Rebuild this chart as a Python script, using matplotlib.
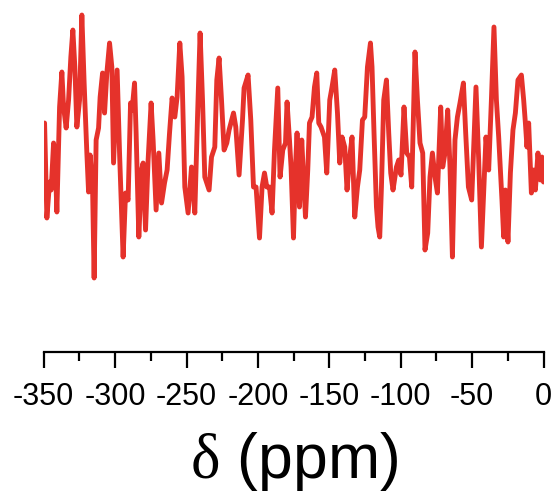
import matplotlib.pyplot as plt
from matplotlib.ticker import MultipleLocator

plt.rcParams['mathtext.fontset'] = 'custom'
plt.rcParams['mathtext.rm'] = 'Liberation Serif'
plt.rcParams['axes.unicode_minus'] = False

# chemical shift (ppm) and intensity (a.u.)
shift = [
    -349.4, -347.8, -345.9, -344.8, -343.1, -342.0, -340.8, -338.9, -337.3, -336.1,
    -334.3, -332.6, -331.0, -329.6, -328.2, -326.8, -324.9, -323.3, -321.7, -319.8,
    -318.6, -317.5, -315.8, -314.7, -313.3, -311.6, -310.5, -308.8, -307.4, -305.8,
    -303.9, -302.3, -301.1, -298.6, -296.9, -294.4, -292.7, -290.9, -289.2, -288.1,
    -286.4, -285.3, -283.4, -281.5, -280.4, -278.7, -276.9, -274.8, -273.4, -271.3,
    -269.4, -267.5, -265.4, -263.6, -261.9, -260.1, -258.2, -256.6, -254.7, -253.1,
    -251.2, -248.9, -246.5, -244.2, -242.3, -240.5, -238.8, -237.2, -234.2, -232.5,
    -230.2, -228.8, -227.2, -225.5, -223.7, -221.8, -220.2, -217.1, -215.5, -213.2,
    -210.8, -209.7, -206.9, -205.0, -203.1, -201.3, -198.9, -197.1, -195.4, -193.8,
    -191.9, -190.1, -188.4, -186.1, -184.5, -182.6, -180.7, -179.6, -177.9, -176.8,
    -175.1, -173.7, -172.6, -170.9, -169.3, -168.1, -166.7, -165.1, -163.9, -162.1,
    -160.4, -158.8, -157.4, -155.8, -153.4, -151.8, -149.7, -148.1, -146.2, -144.3,
    -142.7, -141.1, -139.2, -137.6, -135.7, -134.1, -132.2, -130.3, -128.7, -126.8,
    -125.2, -123.3, -121.2, -120.1, -118.7, -117.0, -115.9, -114.7, -113.5, -111.9,
    -110.0, -108.4, -107.0, -105.4, -103.0, -101.4, -99.8, -97.7, -95.8, -93.9,
    -92.3, -90.0, -88.3, -86.5, -84.6, -83.0, -81.1, -79.5, -77.8, -76.0,
    -74.3, -72.0, -70.6, -69.0, -67.1, -65.5, -63.8, -62.0, -60.3, -58.5,
    -56.1, -54.5, -52.6, -50.3, -47.3, -45.4, -43.5, -41.9, -40.3, -38.4,
    -36.5, -34.7, -33.0, -31.4, -29.1, -27.9, -26.7, -24.9, -23.2, -21.4,
    -19.7, -17.9, -15.5, -13.9, -12.7, -11.6, -10.4, -8.5, -6.9, -5.7,
    -3.9, -2.2, -1.1, 0.0,
]
intensity = [
    1.67, 0.72, 1.08, 1.00, 1.47, 1.33, 0.78, 1.83, 2.18, 1.83,
    1.62, 1.90, 2.33, 2.60, 2.23, 1.63, 1.90, 2.75, 2.07, 1.37,
    0.98, 1.35, 1.03, 0.12, 1.50, 1.62, 1.93, 2.17, 1.77, 2.17,
    2.47, 2.23, 1.27, 2.20, 1.37, 0.33, 0.97, 0.90, 1.87, 1.80,
    2.07, 1.57, 0.53, 1.20, 1.27, 0.60, 1.30, 1.87, 1.50, 0.80,
    1.37, 0.87, 1.07, 1.20, 1.57, 1.92, 1.73, 1.93, 2.47, 2.13,
    1.03, 0.77, 1.23, 0.77, 1.73, 2.57, 1.90, 1.13, 1.00, 1.33,
    1.43, 2.10, 2.32, 1.90, 1.40, 1.47, 1.60, 1.77, 1.63, 1.15,
    1.70, 2.02, 2.15, 1.70, 1.03, 1.03, 0.52, 1.03, 1.17, 1.03,
    1.03, 0.77, 1.40, 2.02, 1.13, 1.40, 1.47, 1.88, 1.50, 1.23,
    0.52, 1.23, 1.57, 0.83, 1.50, 1.13, 0.73, 1.20, 1.67, 1.73,
    2.03, 2.17, 1.67, 1.63, 1.53, 1.17, 1.90, 2.03, 2.20, 1.77,
    1.27, 1.53, 1.43, 1.00, 1.33, 1.53, 0.73, 1.03, 1.20, 1.70,
    1.73, 2.23, 2.47, 2.23, 1.57, 0.83, 0.63, 0.53, 1.03, 1.90,
    2.10, 1.57, 1.17, 1.00, 1.23, 1.30, 1.15, 1.83, 1.37, 1.33,
    1.03, 2.38, 1.90, 1.47, 1.37, 0.40, 0.57, 1.13, 1.37, 1.13,
    0.97, 1.83, 1.23, 1.37, 1.80, 1.23, 0.33, 1.50, 1.73, 1.87,
    2.07, 1.57, 1.03, 0.90, 2.03, 1.30, 0.43, 0.97, 1.53, 1.20,
    1.90, 2.63, 1.90, 1.53, 0.90, 0.53, 1.00, 0.48, 1.17, 1.60,
    1.77, 2.10, 2.15, 1.90, 1.67, 1.43, 1.67, 0.97, 1.20, 1.00,
    1.37, 1.10, 1.33, 1.08,
]

fig = plt.figure(figsize=(5.57, 4.93), dpi=100)
ax = fig.add_axes([0.0785, 0.286, 0.8973, 0.6937])

ax.plot(shift, intensity, color='#e5322b', linewidth=3.5,
        solid_joinstyle='round', solid_capstyle='round')

ax.set_xlim(-350, 0)
ax.set_ylim(-0.62, 2.80)

for side in ['top', 'right', 'left']:
    ax.spines[side].set_visible(False)
ax.spines['bottom'].set_linewidth(1.6)
ax.set_yticks([])

ax.xaxis.set_major_locator(MultipleLocator(50))
ax.xaxis.set_minor_locator(MultipleLocator(25))
ax.tick_params(axis='x', which='major', direction='out', length=11.5,
               width=1.6, pad=10, labelsize=22)
ax.tick_params(axis='x', which='minor', direction='out', length=6.5, width=1.6)
for lab in ax.get_xticklabels():
    lab.set_fontfamily('Liberation Sans')

ax.set_xlabel(r'$\mathrm{\delta}$ (ppm)', fontsize=45,
              fontfamily='Liberation Sans', labelpad=13)

fig.savefig('out.png', dpi=100)
